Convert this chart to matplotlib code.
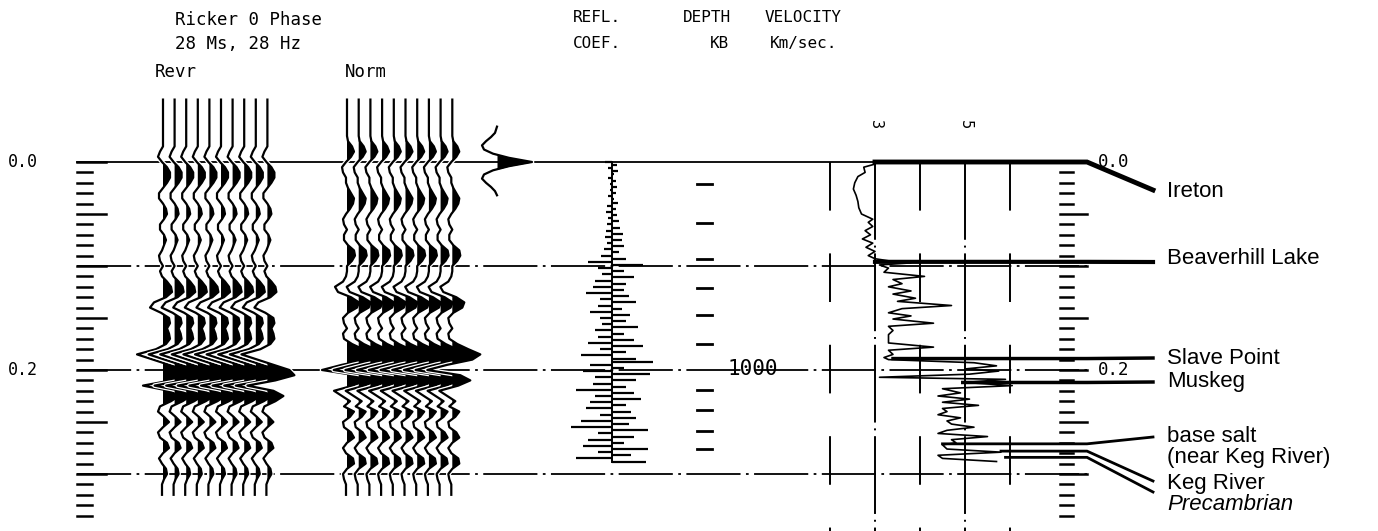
"""Synthetic seismogram display: wiggle traces, reflectivity, depth and velocity log."""
import numpy as np
import matplotlib.pyplot as plt

# two-way time grid of the synthetic traces (s)
TIME = np.round(np.arange(-0.060, 0.3201, 0.005), 3)

# trace deflection (px), reversed polarity
REVR = [0, 0, 0, 0, 0, 0, 0, 0, 0, 0,
        -3, -5, -1, 4, 7, 7, 4, 0, -4, -4,
        0, 3, 4, 1, -3, -3, 1, 3, 1, -1,
        -4, -3, 0, -3, -1, 4, 8, 9, 3, -9,
        -13, -2, 6, 7, 4, 6, 7, 3, -7, -26,
        -10, 6, 22, 27, 8, -20, 6, 16, 8, -3,
        -5, 1, 6, 0, -5, -3, 4, 6, 0, -4,
        -1, 3, 4, 1, -1, -1, -1]

# trace deflection (px), normal polarity
NORM = [0, 0, 0, 0, 0, 0, 0, 0, 1, 5,
        7, 4, -1, -5, -4, -1, -1, 1, 4, 7,
        6, 3, -1, -4, -3, 0, -3, -3, 1, 7,
        8, 5, 0, 0, -1, -4, -12, -9, 4, 12,
        10, 1, -4, -3, 0, -4, -3, 5, 16, 28,
        20, -5, -25, 8, 18, 6, -13, -5, 3, -3,
        7, 3, -4, -3, 4, 7, 0, -4, -1, 6,
        7, 0, -4, -3, -1, -1, -1]

# 28 Hz zero-phase Ricker wavelet
WAVELET_T = [-0.034, -0.028, -0.024, -0.020, -0.016, -0.012, -0.008, -0.004, 0.000,
             0.004, 0.008, 0.012, 0.016, 0.020, 0.024, 0.028, 0.032]
WAVELET = [0, -2, -6, -11, -15, -13, -4, 12, 35, 12, -4, -13, -15, -11, -6, -2, 0]

# reflection coefficients, 3 ms sampling
REFL_T = np.round(np.arange(0.0, 0.2881, 0.003), 3)
REFL = [-0.06, 0.04, -0.03, 0.05, 0.02, -0.03, 0.03, -0.02, 0.04, -0.02, 0.03,
        -0.03, 0.02, 0.05, -0.04, 0.03, -0.05, 0.04, -0.03, 0.06, -0.04,
        0.07, -0.05, 0.09, -0.06, 0.08, -0.04, 0.10, -0.07, 0.06, -0.09,
        0.12, -0.20, 0.26, -0.12, 0.10, -0.08, 0.18, -0.14, 0.12, -0.16,
        0.10, -0.22, 0.14, -0.10, 0.20, -0.12, 0.08, -0.18, 0.15, -0.10,
        0.12, -0.08, 0.22, -0.14, 0.10, -0.12, 0.18, -0.20, 0.26, -0.10,
        0.12, -0.26, 0.20, 0.34, -0.18, 0.10, -0.24, 0.32, -0.14, 0.20,
        -0.16, 0.12, -0.30, 0.18, -0.14, 0.24, -0.18, 0.12, -0.22, 0.16,
        -0.10, 0.20, -0.26, 0.14, -0.34, 0.30, -0.12, 0.18, -0.20, 0.10,
        -0.24, 0.30, -0.12, 0.16, -0.30, 0.28]

# depth below KB (m) against two-way time (s)
DEPTH_M = [700, 750, 800, 850, 900, 950, 1000, 1050, 1100, 1150, 1200]
DEPTH_T = [0.021, 0.059, 0.093, 0.121, 0.147, 0.175, 0.199, 0.219, 0.238, 0.259, 0.276]

# interval velocity log (km/s)
VEL_T = [0.002, 0.005, 0.010, 0.014, 0.020, 0.026, 0.032, 0.038, 0.044, 0.050,
         0.055, 0.058, 0.062, 0.066, 0.070, 0.074, 0.078, 0.082, 0.086, 0.090,
         0.093, 0.095, 0.097, 0.099, 0.102, 0.106, 0.110, 0.113, 0.117, 0.120,
         0.124, 0.127, 0.131, 0.134, 0.138, 0.141, 0.145, 0.148, 0.151, 0.155,
         0.158, 0.162, 0.166, 0.170, 0.174, 0.178, 0.181, 0.185, 0.188, 0.190,
         0.193, 0.196, 0.199, 0.201, 0.204, 0.207, 0.209, 0.212, 0.215, 0.218,
         0.222, 0.225, 0.228, 0.231, 0.234, 0.237, 0.240, 0.243, 0.246, 0.249,
         0.252, 0.255, 0.258, 0.261, 0.264, 0.267, 0.270, 0.272, 0.276, 0.279,
         0.282, 0.285, 0.288]
VEL = [3.00, 2.75, 2.78, 2.62, 2.55, 2.52, 2.58, 2.62, 2.64, 2.70,
       2.95, 2.85, 2.95, 2.78, 2.90, 2.72, 2.95, 2.80, 3.00, 2.85,
       3.00, 3.30, 3.80, 3.10, 3.30, 3.20, 4.10, 3.40, 3.60, 3.30,
       3.80, 3.40, 3.90, 3.50, 4.70, 3.60, 3.30, 3.80, 3.40, 4.30,
       3.30, 3.40, 3.30, 3.30, 3.30, 4.30, 3.30, 3.40, 3.20, 3.30,
       5.20, 5.70, 5.00, 5.75, 5.10, 3.10, 5.90, 5.00, 6.05, 4.50,
       4.90, 4.40, 5.10, 4.50, 5.30, 4.50, 4.60, 4.40, 4.90, 4.60,
       4.70, 5.20, 4.60, 4.40, 5.50, 4.70, 4.80, 4.50, 4.60, 5.80,
       4.40, 4.50, 5.70]
VEL_GRID = [2, 3, 4, 5, 6]
VEL_LABELS = [3, 5]

# formation tops: name, time (s), velocity where the pick starts (km/s)
TOP_NAMES = ["Ireton", "Beaverhill Lake", "Slave Point", "Muskeg",
             "base salt\n(near Keg River)", "Keg River", "Precambrian"]
TOP_TIMES = [0.000, 0.096, 0.189, 0.212, 0.271, 0.278, 0.284]
TOP_START_V = [3.0, 3.0, 3.4, 4.95, 4.5, 5.8, 5.9]

TIME_LABELS = [0.0, 0.2]
TIME_LINES = [0.1, 0.2, 0.3]

# page layout (pixels)
T0_PX, PX_PER_S = 162, 1040


def ty(px):
    return (px - T0_PX) / PX_PER_S


def vx(v):
    return 830 + (v - 2.0) * 45


def wiggle(ax, x0, amp, t, z):
    # white backing clears older traces, then fill and line on top
    x = x0 + amp
    ax.plot(x, t, color="white", lw=3.4, zorder=z)
    ax.fill_betweenx(t, x0, x, where=amp > 0, interpolate=True,
                     color="black", lw=0, zorder=z + 1)
    ax.plot(x, t, color="black", lw=1.6, zorder=z + 2)


def main():
    fig = plt.figure(figsize=(13.78, 5.31), dpi=100)
    ax = fig.add_axes([0, 0, 1, 1])
    ax.set_xlim(0, 1378)
    ax.set_ylim(ty(531), ty(0))
    ax.axis("off")

    mono = dict(family="DejaVu Sans Mono", color="black")
    label = dict(family="Liberation Sans", color="black", fontsize=16)

    # headings
    ax.text(175, ty(20), "Ricker 0 Phase", fontsize=12.5, va="center", **mono)
    ax.text(175, ty(44), "28 Ms, 28 Hz", fontsize=12.5, va="center", **mono)
    ax.text(155, ty(72), "Revr", fontsize=12.5, va="center", **mono)
    ax.text(345, ty(72), "Norm", fontsize=12.5, va="center", **mono)
    ax.text(573, ty(18), "REFL.", fontsize=11.5, va="center", **mono)
    ax.text(573, ty(44), "COEF.", fontsize=11.5, va="center", **mono)
    ax.text(683, ty(18), "DEPTH", fontsize=11.5, va="center", **mono)
    ax.text(710, ty(44), "KB", fontsize=11.5, va="center", **mono)
    ax.text(765, ty(18), "VELOCITY", fontsize=11.5, va="center", **mono)
    ax.text(770, ty(44), "Km/sec.", fontsize=11.5, va="center", **mono)

    # time reference lines
    ax.plot([77, 1087], [0.0, 0.0], color="black", lw=1.3, zorder=1)
    for t in TIME_LINES:
        ax.plot([77, 1087], [t, t], color="black", lw=1.3, zorder=1,
                linestyle=(0, (30, 3, 1.5, 3)))

    # time scales left and right, 10 ms ticks
    ticks = np.round(np.arange(0.0, 0.3451, 0.01), 3)
    for t in ticks:
        major = abs(t / 0.05 - round(t / 0.05)) < 1e-6
        ax.plot([77, 106 if major else 92], [t, t], color="black", lw=1.8, zorder=2)
        if t > 0:
            ax.plot([1060, 1087 if major else 1073], [t, t], color="black",
                    lw=1.8, zorder=2)
    for t in TIME_LABELS:
        ax.text(8, t, f"{t:.1f}", fontsize=12, va="center", **mono)
        ax.text(1098, t, f"{t:.1f}", fontsize=12.5, va="center", zorder=8, **mono)

    # synthetic traces
    revr = np.array(REVR, dtype=float)
    norm = np.array(NORM, dtype=float)
    for i in range(10):
        wiggle(ax, 163 + 11.6 * i, revr, TIME, 10 + 3 * i)
        wiggle(ax, 347 + 11.7 * i, norm, TIME, 50 + 3 * i)

    # wavelet
    wiggle(ax, 497, np.array(WAVELET, dtype=float), np.array(WAVELET_T), 90)

    # reflection coefficients as spikes off a spine
    refl = np.array(REFL)
    ax.plot([612, 612], [REFL_T[0], REFL_T[-1]], color="black", lw=1.4, zorder=5)
    ax.hlines(REFL_T, 612, 612 + 120 * refl, color="black", lw=1.6, zorder=5)

    # depth ticks
    for d, t in zip(DEPTH_M, DEPTH_T):
        if d == 1000:
            ax.text(753, t, f"{d}", fontsize=15, ha="center", va="center",
                    zorder=6, **mono)
        else:
            ax.plot([697, 712], [t, t], color="black", lw=2, zorder=5)

    # velocity grid
    for v in VEL_GRID:
        ls = (0, (40, 3, 1, 3)) if v in (3, 5) else (0, (25, 22))
        ax.plot([vx(v), vx(v)], [0.0, ty(531)], color="black", lw=1.4,
                linestyle=ls, zorder=2)
    for v in VEL_LABELS:
        ax.text(vx(v), ty(125), f"{v}", rotation=-90, fontsize=11,
                ha="center", va="center", **mono)

    ax.plot([vx(v) for v in VEL], VEL_T, color="black", lw=1.2, zorder=6)

    # formation picks and leaders
    label_px = [192, 259, 358, 382, 447, 483, 505]
    leader_px = [190, 262, 358, 382, 437, 481, 492]
    widths = [3.5, 3.0, 2.5, 2.5, 2.0, 2.0, 2.0]
    for name, t, v, lp, ep, w in zip(TOP_NAMES, TOP_TIMES, TOP_START_V,
                                     label_px, leader_px, widths):
        ax.plot([vx(v), 1087, 1153], [t, t, ty(ep)], color="black", lw=w,
                zorder=7, solid_joinstyle="miter")
        style = "italic" if name == "Precambrian" else "normal"
        ax.text(1167, ty(lp), name, va="center", style=style,
                linespacing=1.05, **label)

    fig.savefig("out.png", dpi=100, facecolor="white")


if __name__ == "__main__":
    main()
